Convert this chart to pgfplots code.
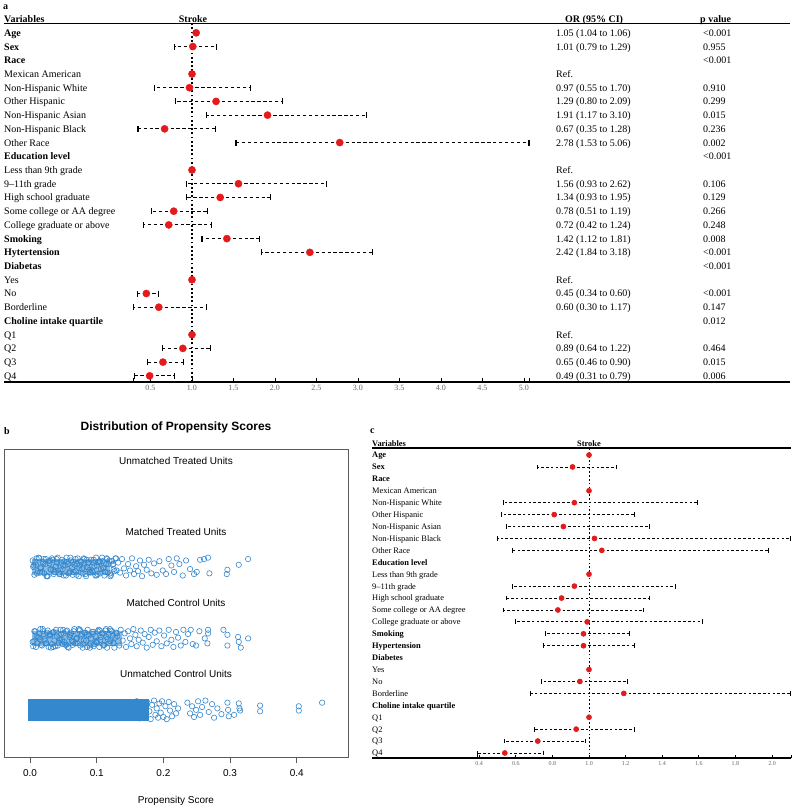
\documentclass[border=0pt]{standalone}
\usepackage{fontspec}
\setmainfont{Liberation Serif}
\setsansfont{Liberation Sans}
\usepackage{pgfplots}
\pgfplotsset{compat=1.18}
\usepackage{pgfplotstable}

\definecolor{dotred}{RGB}{228,26,28}
\definecolor{ptblue}{RGB}{52,136,206}
\definecolor{boxgray}{RGB}{90,90,90}

% panel a: odds ratios, rows counted from the top
\pgfplotstableread{
row or lo hi
0 1.05 1.04 1.06
1 1.01 0.79 1.29
4 0.97 0.55 1.70
5 1.29 0.80 2.09
6 1.91 1.17 3.10
7 0.67 0.35 1.28
8 2.78 1.53 5.06
11 1.56 0.93 2.62
12 1.34 0.93 1.95
13 0.78 0.51 1.19
14 0.72 0.42 1.24
15 1.42 1.12 1.81
16 2.42 1.84 3.18
19 0.45 0.34 0.60
20 0.60 0.30 1.17
23 0.89 0.64 1.22
24 0.65 0.46 0.90
25 0.49 0.31 0.79
}\tabA
\pgfplotstableread{
row or
3 1
10 1
18 1
22 1
}\refA

% panel c: after matching
\pgfplotstableread{
row or lo hi
1 0.91 0.72 1.15
4 0.92 0.53 1.59
5 0.81 0.52 1.25
6 0.86 0.55 1.33
7 1.03 0.50 2.10
8 1.07 0.58 1.98
11 0.92 0.58 1.47
12 0.85 0.55 1.33
13 0.83 0.53 1.30
14 0.99 0.60 1.62
15 0.97 0.76 1.22
16 0.97 0.75 1.25
19 0.95 0.74 1.21
20 1.19 0.68 2.10
23 0.93 0.70 1.25
24 0.72 0.54 0.98
25 0.54 0.39 0.75
}\tabC
\pgfplotstableread{
row or
0 1
3 1
10 1
18 1
22 1
}\refC

% panel b: jittered propensity scores (yt = matched treated, yc = matched control)
\pgfplotstableread{
x yt yc
0.0040 3.09 1.95
0.0065 2.89 2.10
0.0090 3.03 1.88
0.0115 2.94 2.02
0.0140 3.12 2.07
0.0165 2.98 1.91
0.0190 3.07 2.13
0.0215 2.91 1.99
0.0240 3.11 1.93
0.0265 2.87 2.11
0.0290 3.05 2.04
0.0315 2.96 1.87
0.0340 3.10 2.08
0.0365 2.93 1.97
0.0390 3.01 2.12
0.0415 3.13 1.90
0.0440 2.90 2.00
0.0465 3.06 2.06
0.0490 2.97 1.92
0.0515 3.08 1.95
0.0540 2.88 2.10
0.0565 3.04 1.88
0.0590 2.92 2.02
0.0615 3.09 2.07
0.0640 2.89 1.91
0.0665 3.03 2.13
0.0690 2.94 1.99
0.0715 3.12 1.93
0.0740 2.98 2.11
0.0765 3.07 2.04
0.0790 2.91 1.87
0.0815 3.11 2.08
0.0840 2.87 1.97
0.0865 3.05 2.12
0.0890 2.96 1.90
0.0915 3.10 2.00
0.0940 2.93 2.06
0.0965 3.01 1.92
0.0990 3.13 1.95
0.1015 2.90 2.10
0.1040 3.06 1.88
0.1065 2.97 2.02
0.1090 3.08 2.07
0.1115 2.88 1.91
0.1140 3.04 2.13
0.1165 2.92 1.99
0.1190 3.09 1.93
0.1215 2.89 2.11
0.1240 3.03 2.04
0.1265 2.94 1.87
0.1290 3.12 2.08
0.0055 3.02 1.96
0.0080 3.07 2.10
0.0105 2.91 1.93
0.0130 3.13 2.01
0.0155 2.99 2.13
0.0180 2.93 1.90
0.0205 3.11 2.06
0.0230 3.04 1.97
0.0255 2.87 2.08
0.0280 3.08 1.88
0.0305 2.97 2.04
0.0330 3.12 1.92
0.0355 2.90 2.09
0.0380 3.00 1.89
0.0405 3.06 2.03
0.0430 2.92 1.94
0.0455 2.95 2.12
0.0480 3.10 1.98
0.0505 2.88 2.07
0.0530 3.02 1.91
0.0555 3.07 2.11
0.0580 2.91 1.87
0.0605 3.13 2.05
0.0630 2.99 1.96
0.0655 2.93 2.10
0.0680 3.11 1.93
0.0705 3.04 2.01
0.0730 2.87 2.13
0.0755 3.08 1.90
0.0780 2.97 2.06
0.0805 3.12 1.97
0.0830 2.90 2.08
0.0855 3.00 1.88
0.0880 3.06 2.04
0.0905 2.92 1.92
0.0930 2.95 2.09
0.0955 3.10 1.89
0.0980 2.88 2.03
0.1005 3.02 1.94
0.1030 3.07 2.12
0.1055 2.91 1.98
0.1080 3.13 2.07
0.1105 2.99 1.91
0.1130 2.93 2.11
0.1155 3.11 1.87
0.1180 3.04 2.05
0.1205 2.87 1.96
0.1230 3.08 2.10
0.1255 2.97 1.93
0.1280 3.12 2.01
0.0048 3.00 1.89
0.0098 3.12 2.03
0.0148 2.92 1.99
0.0198 3.05 2.10
0.0248 2.87 1.93
0.0298 3.09 2.06
0.0348 2.96 1.88
0.0398 3.11 2.08
0.0448 2.90 1.98
0.0498 3.02 2.12
0.0548 3.13 1.91
0.0598 2.94 2.04
0.0648 3.07 1.95
0.0698 2.89 2.00
0.0748 3.03 2.12
0.0798 2.99 1.92
0.0848 3.10 2.05
0.0898 2.93 1.87
0.0948 3.06 2.09
0.0998 2.88 1.96
0.1048 3.08 2.11
0.1098 2.98 1.90
0.1148 3.12 2.02
0.1198 2.91 2.13
0.1248 3.04 1.94
0.1298 2.95 2.07
}\dense

\pgfplotstableread{
x y
0.132 3.06
0.135 2.92
0.138 3.11
0.141 2.98
0.144 2.88
0.147 3.04
0.150 2.95
0.153 3.12
0.156 2.90
0.159 3.01
0.162 2.94
0.165 3.09
0.168 2.87
0.171 3.03
0.175 2.96
0.178 3.10
0.182 2.91
0.186 3.05
0.190 2.89
0.194 3.08
0.199 2.95
0.204 2.90
0.208 3.11
0.212 3.02
0.216 2.93
0.220 3.12
0.224 3.04
0.229 2.88
0.234 3.09
0.240 2.97
0.246 2.90
0.250 2.93
0.255 3.10
0.261 3.11
0.267 3.13
0.269 2.91
0.295 2.90
0.296 2.96
0.313 3.03
0.327 3.11
}\mtTail

\pgfplotstableread{
x y
0.131 2.03
0.134 1.90
0.136 2.12
0.139 1.97
0.142 2.07
0.144 1.88
0.147 2.10
0.150 2.00
0.152 1.92
0.155 2.13
0.158 2.05
0.160 1.89
0.163 1.98
0.166 2.11
0.169 1.94
0.172 2.06
0.175 1.87
0.178 2.02
0.181 2.12
0.184 1.91
0.187 2.08
0.190 1.96
0.194 2.11
0.197 1.89
0.201 2.04
0.205 1.93
0.208 2.12
0.212 1.98
0.215 1.88
0.219 2.09
0.222 2.01
0.226 1.90
0.230 2.12
0.233 1.95
0.237 2.06
0.241 2.12
0.244 1.92
0.249 1.90
0.254 2.10
0.262 2.00
0.267 2.12
0.267 2.07
0.266 1.93
0.290 2.12
0.296 2.05
0.296 1.90
0.312 2.02
0.313 1.95
0.316 1.87
0.327 2.00
}\mcTail

\pgfplotstableread{
x y
0.160 1.12
0.164 0.88
0.168 1.03
0.172 0.92
0.176 1.10
0.179 0.98
0.181 0.87
0.183 1.07
0.186 1.13
0.188 0.93
0.190 1.02
0.192 0.89
0.194 1.09
0.196 0.96
0.198 1.12
0.200 0.90
0.203 1.05
0.205 0.87
0.208 1.11
0.210 0.99
0.213 0.91
0.216 1.08
0.219 0.95
0.222 1.02
0.236 1.10
0.240 0.95
0.243 1.05
0.246 0.90
0.249 1.00
0.252 1.12
0.255 0.93
0.258 1.04
0.263 1.13
0.268 0.97
0.273 1.08
0.276 0.89
0.281 1.02
0.287 0.94
0.296 1.10
0.297 1.00
0.298 0.91
0.306 0.93
0.313 1.09
0.314 1.02
0.315 0.99
0.345 1.06
0.345 0.98
0.403 1.05
0.403 0.99
0.438 1.10
}\ucTail

\newcommand{\fa}{\fontsize{10}{12}\selectfont}
\newcommand{\fc}{\fontsize{8.4}{10}\selectfont}

\begin{document}
\begin{tikzpicture}[x=1pt,y=-1pt]
\path[use as bounding box] (0,0) rectangle (793,807);

%% ---------------- panel a ----------------
\node[anchor=base west, inner sep=0pt, font=\fa\bfseries] at (3,9) {a};
\node[anchor=base west, inner sep=0pt, font=\fa\bfseries] at (4,22) {Variables};
\node[anchor=base, inner sep=0pt, font=\fa\bfseries] at (193,22) {Stroke};
\node[anchor=base west, inner sep=0pt, font=\fa\bfseries] at (565,22) {OR (95\% CI)};
\node[anchor=base west, inner sep=0pt, font=\fa\bfseries] at (700,22) {p value};
\draw[line width=1.3pt] (4,23.5) -- (790,23.5);

\foreach \t [count=\i from 0] in {\textbf{Age}, \textbf{Sex}, \textbf{Race}, Mexican American,
  Non-Hispanic White, Other Hispanic, Non-Hispanic Asian, Non-Hispanic Black, Other Race,
  \textbf{Education level}, Less than 9th grade, 9–11th grade, High school graduate,
  Some college or AA degree, College graduate or above, \textbf{Smoking}, \textbf{Hytertension},
  \textbf{Diabetas}, Yes, No, Borderline, \textbf{Choline intake quartile}, Q1, Q2, Q3, Q4}
  \node[anchor=base west, inner sep=0pt, font=\fa] at (4,{36.3+13.72*\i}) {\t};

\foreach \t [count=\i from 0] in {1.05 (1.04 to 1.06), 1.01 (0.79 to 1.29), , Ref.,
  0.97 (0.55 to 1.70), 1.29 (0.80 to 2.09), 1.91 (1.17 to 3.10), 0.67 (0.35 to 1.28),
  2.78 (1.53 to 5.06), , Ref., 1.56 (0.93 to 2.62), 1.34 (0.93 to 1.95), 0.78 (0.51 to 1.19),
  0.72 (0.42 to 1.24), 1.42 (1.12 to 1.81), 2.42 (1.84 to 3.18), , Ref., 0.45 (0.34 to 0.60),
  0.60 (0.30 to 1.17), , Ref., 0.89 (0.64 to 1.22), 0.65 (0.46 to 0.90), 0.49 (0.31 to 0.79)}
  \node[anchor=base west, inner sep=0pt, font=\fa] at (556,{36.3+13.72*\i}) {\t};

\foreach \t [count=\i from 0] in {<0.001, 0.955, <0.001, , 0.910, 0.299, 0.015, 0.236, 0.002,
  <0.001, , 0.106, 0.129, 0.266, 0.248, 0.008, <0.001, <0.001, , <0.001, 0.147, 0.012, ,
  0.464, 0.015, 0.006}
  \node[anchor=base west, inner sep=0pt, font=\fa] at (703,{36.3+13.72*\i}) {\t};

\begin{axis}[
    at={(4pt,-23.5pt)}, anchor=north west,
    scale only axis, width=786pt, height=358.5pt,
    xmin=-1.265, xmax=8.205, ymin=-25.45, ymax=0.678,
    axis x line=bottom, axis y line=none,
    x axis line style={-, line width=1.3pt},
    xtick={0.5,1,...,5},
    extra x ticks={0.3,5.06}, extra x tick labels={},
    tick align=inside, major tick length=4.5pt,
    tick style={black, line width=0.9pt},
    xticklabel={\pgfmathprintnumber[fixed,fixed zerofill,precision=1,assume math mode=true]{\tick}},
    xticklabel style={font=\fontsize{8}{9}\selectfont, text=black!60},
    clip=false,
]
\addplot[black, line width=1.1pt, dash pattern=on 1.8pt off 2.4pt]
    coordinates {(1,-25.45) (1,0.678)};
\addplot[only marks, mark=none,
    error bars/.cd, x dir=both, x explicit, error mark=|,
    error bar style={black, line width=0.95pt, dash pattern=on 3.3pt off 2.6pt},
    error mark options={black, solid, line width=1.1pt, mark size=3pt}]
    table[x=or, y expr=-\thisrow{row},
          x error plus expr=\thisrow{hi}-\thisrow{or},
          x error minus expr=\thisrow{or}-\thisrow{lo}] {\tabA};
\addplot[only marks, mark=*, mark size=3.6pt, dotred]
    table[x=or, y expr=-\thisrow{row}] {\tabA};
\addplot[only marks, mark=*, mark size=3.6pt, dotred]
    table[x=or, y expr=-\thisrow{row}] {\refA};
\end{axis}

%% ---------------- panel b ----------------
\node[anchor=base west, inner sep=0pt, font=\fa\bfseries] at (4,434.5) {b};
\node[anchor=base, inner sep=0pt, font=\fontsize{12}{14}\sffamily\bfseries] at (176,430.3)
    {Distribution of Propensity Scores};
\foreach \t/\yy in {Unmatched Treated Units/461, Matched Treated Units/532,
    Matched Control Units/603, Unmatched Control Units/674}
  \node[anchor=base, inner sep=0pt, font=\fontsize{10}{12}\sffamily] at (176,{\yy+3.6}) {\t};
\node[anchor=base, inner sep=0pt, font=\fontsize{10}{12}\sffamily] at (176,803.4) {Propensity Score};

\begin{axis}[
    at={(4pt,-449pt)}, anchor=north west,
    scale only axis, width=344pt, height=308pt,
    xmin=-0.039, xmax=0.4768, ymin=0.34, ymax=4.65,
    ytick=\empty, xtick={0,0.1,0.2,0.3,0.4},
    xtick pos=bottom, tick align=outside, major tick length=6pt,
    axis line style={boxgray, line width=0.8pt},
    tick style={boxgray, line width=0.8pt},
    xticklabel={\pgfmathprintnumber[fixed,fixed zerofill,precision=1,assume math mode=true]{\tick}},
    xticklabel style={font=\fontsize{10}{12}\sffamily, yshift=-3pt},
]
% the densest parts of the strips, where the circles overlap
\addplot[fill=ptblue!55, draw=none]
    coordinates {(0.003,2.89) (0.120,2.89) (0.120,3.11) (0.003,3.11)} -- cycle;
\addplot[fill=ptblue!55, draw=none]
    coordinates {(0.003,1.89) (0.138,1.89) (0.138,2.11) (0.003,2.11)} -- cycle;
\addplot[fill=ptblue, draw=ptblue, line width=0.6pt]
    coordinates {(-0.003,0.855) (0.178,0.855) (0.178,1.145) (-0.003,1.145)} -- cycle;
\addplot[only marks, mark=o, mark size=2.7pt, ptblue, mark options={line width=0.6pt}]
    table[x=x, y=yt] {\dense};
\addplot[only marks, mark=o, mark size=2.7pt, ptblue, mark options={line width=0.6pt}]
    table[x=x, y=yc] {\dense};
\addplot[only marks, mark=o, mark size=2.7pt, ptblue, mark options={line width=0.6pt}]
    table[x=x, y=y] {\mtTail};
\addplot[only marks, mark=o, mark size=2.7pt, ptblue, mark options={line width=0.6pt}]
    table[x=x, y=y] {\mcTail};
\addplot[only marks, mark=o, mark size=2.7pt, ptblue, mark options={line width=0.6pt}]
    table[x=x, y=y] {\ucTail};
\end{axis}

%% ---------------- panel c ----------------
\node[anchor=base west, inner sep=0pt, font=\fa\bfseries] at (370,433.5) {c};
\node[anchor=base west, inner sep=0pt, font=\fc\bfseries] at (372,446) {Variables};
\node[anchor=base, inner sep=0pt, font=\fc\bfseries] at (589,446) {Stroke};
\draw[line width=1.1pt] (372,448) -- (791,448);

\foreach \t [count=\i from 0] in {\textbf{Age}, \textbf{Sex}, \textbf{Race}, Mexican American,
  Non-Hispanic White, Other Hispanic, Non-Hispanic Asian, Non-Hispanic Black, Other Race,
  \textbf{Education level}, Less than 9th grade, 9–11th grade, High school graduate,
  Some college or AA degree, College graduate or above, \textbf{Smoking}, \textbf{Hypertension},
  \textbf{Diabetes}, Yes, No, Borderline, \textbf{Choline intake quartile}, Q1, Q2, Q3, Q4}
  \node[anchor=base west, inner sep=0pt, font=\fc] at (372,{457.9+11.92*\i}) {\t};

\begin{axis}[
    at={(372pt,-448pt)}, anchor=north west,
    scale only axis, width=419pt, height=310pt,
    xmin=-0.1858, xmax=2.1038, ymin=-25.42, ymax=0.587,
    axis x line=bottom, axis y line=none,
    x axis line style={-, line width=1.1pt},
    xtick={0.4,0.6,...,2.0},
    extra x ticks={0.39,2.1038}, extra x tick labels={},
    tick align=inside, major tick length=3.5pt,
    tick style={black, line width=0.8pt},
    xticklabel={\pgfmathprintnumber[fixed,fixed zerofill,precision=1,assume math mode=true]{\tick}},
    xticklabel style={font=\fontsize{6}{7}\selectfont, text=black!60},
    clip=false,
]
\addplot[black, line width=0.9pt, dash pattern=on 1.6pt off 2.2pt]
    coordinates {(1,-25.42) (1,0.587)};
\addplot[only marks, mark=none,
    error bars/.cd, x dir=both, x explicit, error mark=|,
    error bar style={black, line width=0.8pt, dash pattern=on 2.6pt off 2.2pt},
    error mark options={black, solid, line width=0.9pt, mark size=2.4pt}]
    table[x=or, y expr=-\thisrow{row},
          x error plus expr=\thisrow{hi}-\thisrow{or},
          x error minus expr=\thisrow{or}-\thisrow{lo}] {\tabC};
\addplot[only marks, mark=*, mark size=2.6pt, dotred]
    table[x=or, y expr=-\thisrow{row}] {\tabC};
\addplot[only marks, mark=*, mark size=2.6pt, dotred]
    table[x=or, y expr=-\thisrow{row}] {\refC};
\end{axis}
\end{tikzpicture}
\end{document}
